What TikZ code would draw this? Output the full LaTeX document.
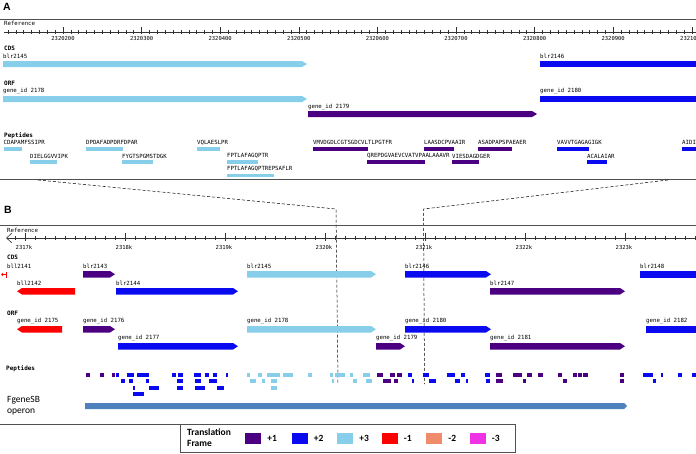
\documentclass[tikz,border=0pt]{standalone}
\usepackage{fontspec}
\setsansfont{Liberation Sans}
\newfontfamily\trackfont{DejaVu Sans Mono}
\newfontfamily\legfont{Carlito}
\usetikzlibrary{positioning}
\definecolor{cF1}{HTML}{4B0082}
\definecolor{cF2}{HTML}{0A0AF0}
\definecolor{cF3}{HTML}{87CEEB}
\definecolor{cM1}{HTML}{FF0000}
\definecolor{cM2}{HTML}{F08C6C}
\definecolor{cM3}{HTML}{F032E6}
\definecolor{cOp}{HTML}{4F81BD}
\definecolor{cRule}{HTML}{505050}
\tikzset{
  lbl/.style={anchor=west,inner sep=0pt,font=\trackfont\fontsize{5.7}{6}\selectfont},
  hdr/.style={anchor=west,inner sep=0pt,font=\trackfont\bfseries\fontsize{6}{7}\selectfont},
  ticklbl/.style={anchor=center,inner sep=0pt,font=\trackfont\fontsize{5.5}{6}\selectfont},
  panel/.style={inner sep=0pt,font=\sffamily\bfseries\fontsize{10.5}{12}\selectfont},
  rule/.style={draw=cRule,line width=.8pt},
  axis/.style={draw=black!80,line width=.6pt},
  zoomline/.style={densely dashed,line width=.5pt},
  swatch/.style={minimum width=16pt,minimum height=10.5pt,inner sep=0pt},
  legtxt/.style={anchor=west,inner sep=0pt,font=\legfont\bfseries\fontsize{9.5}{10.5}\selectfont},
}
% forward / reverse gene bars: x1, x2, ytop, ybot, colour
\newcommand{\fwdbar}[5]{\fill[#5] (#1,#3) -- ({#2-5},#3) -- (#2,{(#3+#4)/2}) -- ({#2-5},#4) -- (#1,#4) -- cycle;}
\newcommand{\revbar}[5]{\fill[#5] (#2,#3) -- ({#1+5},#3) -- (#1,{(#3+#4)/2}) -- ({#1+5},#4) -- (#2,#4) -- cycle;}

\begin{document}
\begin{tikzpicture}[x=1pt,y=-1pt]
  \clip (0,0) rectangle (696,453);

  % ---------------- panel A
  \node[panel] (pA) at (7,7) {A};
  \draw[rule] (0,19) -- (696,19);
  \node[lbl] (refA) at (4,23.5) {Reference};
  \draw[axis] (4,32) -- (696,32);
  \foreach \n in {-7,...,80}
    \draw[axis,line width=.5pt] ({63+7.86*\n},30) -- ++(0,4);
  \foreach \n/\t in {0/2320200,1/2320300,2/2320400,3/2320500,4/2320600,
                     5/2320700,6/2320800,7/2320900,8/2321000}{
    \draw[axis,line width=.5pt] ({63+78.6*\n},27) -- ++(0,7);
    \node[ticklbl] (tA\n) at ({63+78.6*\n},38.5) {\t};
  }

  \node[hdr] (cdsA) at (4,48.5) {CDS};
  \node[lbl] (g2145) at (3,56.5) {blr2145};
  \fwdbar{3}{307}{61}{67}{cF3}
  \node[lbl] (g2146) at (540,56.5) {blr2146};
  \fill[cF2] (540,61) rectangle (700,67);

  \node[hdr] (orfA) at (4,83.5) {ORF};
  \node[lbl] (o2178) at (3,91) {gene\_id 2178};
  \fwdbar{3}{307}{96}{102}{cF3}
  \node[lbl] (o2180) at (540,91) {gene\_id 2180};
  \fill[cF2] (540,96) rectangle (700,102);
  \node[lbl] (o2179) at (308,107.5) {gene\_id 2179};
  \fwdbar{308}{537}{111}{117}{cF1}

  \node[hdr] (pepA) at (4,135.5) {Peptides};
  \foreach \a/\b/\y/\t in {3.5/22/142.3/CDAPAMFSSIPR, 30/57/156/DIELGGVVIPK,
      86/123/142.3/DPDAFADPDRFDPAR, 122/153/156/FYGTSPGMSTDGK,
      197/220/142.3/VQLAESLPR, 227/258/156/FPTLAFAGQPTR,
      227/274/169.2/FPTLAFAGQPTREPSAFLR}{
    \node[lbl] at (\a,\y) {\t};
    \fill[cF3] (\a,{\y+4.4}) rectangle (\b,{\y+8.2});
  }
  \foreach \a/\b/\y/\t in {313/368/142.3/VMVDGDLCGTSGDCVLTLPGTFR,
      367/425/156/QREPDGVAEVCVATVPAALAAAVR, 424/454/142.3/LAASDCPVAAIR,
      452/479/156/VIESDAGDGER, 478/512/142.3/ASADPAPSPAEAER}{
    \node[lbl] at (\a,\y) {\t};
    \fill[cF1] (\a,{\y+4.4}) rectangle (\b,{\y+8.2});
  }
  \foreach \a/\b/\y/\t in {557/589/142.3/VAVVTGAGAGIGK, 587/607/156/ACALAIAR,
      682/700/142.3/AIDI}{
    \node[lbl] at (\a,\y) {\t};
    \fill[cF2] (\a,{\y+4.4}) rectangle (\b,{\y+8.2});
  }
  \draw[rule] (0,179.5) -- (696,179.5);

  % zoom guides
  \coordinate (zL1) at (38,180);
  \coordinate (zL2) at (336,209);
  \coordinate (zL3) at (338,383);
  \coordinate (zR1) at (668,180);
  \coordinate (zR2) at (423.5,209);
  \coordinate (zR3) at (424.5,384);
  \draw[zoomline] (zL1) -- (zL2) -- (zL3);
  \draw[zoomline] (zR1) -- (zR2) -- (zR3);

  % ---------------- panel B
  \node[panel] (pB) at (8,210) {B};
  \draw[rule] (0,225) -- (696,225);
  \node[lbl] (refB) at (7,230) {Reference};
  \draw[axis] (6.5,238) -- (696,238);
  \draw[axis] (12,233) -- (6.5,238) -- (12,243);
  \foreach \n in {-1,...,67}
    \draw[axis,line width=.5pt] ({25+10*\n},236) -- ++(0,4);
  \foreach \n/\t in {0/2317k,1/2318k,2/2319k,3/2320k,4/2321k,5/2322k,6/2323k}{
    \draw[axis,line width=.5pt] ({25+100*\n},233) -- ++(0,8);
    \node[ticklbl] (tB\n) at ({24+100*\n},247) {\t};
  }

  \node[hdr] (cdsB) at (7,257) {CDS};
  \node[lbl] (g2141) at (7,266.5) {bll2141};
  \fill[cM1] (5.5,271.5) rectangle (7,277.5);
  \draw[cM1,line width=.6pt] (1.5,274.5) -- (5.5,274.5);
  \draw[cM1,line width=.6pt] (3,273) -- (1.5,274.5) -- (3,276);
  \node[lbl] (g2143) at (83,266.5) {blr2143};
  \fwdbar{83}{115}{271}{277.5}{cF1}
  \node[lbl] (g2145b) at (247,266.5) {blr2145};
  \fwdbar{247}{376}{271}{277.5}{cF3}
  \node[lbl] (g2146b) at (405,266.5) {blr2146};
  \fwdbar{405}{491}{271}{277.5}{cF2}
  \node[lbl] (g2148) at (640,266.5) {blr2148};
  \fill[cF2] (640,271) rectangle (700,277.5);
  \node[lbl] (g2142) at (17,283) {bll2142};
  \revbar{17}{75}{288}{294.5}{cM1}
  \node[lbl] (g2144) at (116,283) {blr2144};
  \fwdbar{116}{238}{288}{294.5}{cF2}
  \node[lbl] (g2147) at (490,283) {blr2147};
  \fwdbar{490}{625}{288}{294.5}{cF1}

  \node[hdr] (orfB) at (7,313) {ORF};
  \node[lbl] (o2175) at (17,321.5) {gene\_id 2175};
  \revbar{17}{62}{326}{332.5}{cM1}
  \node[lbl] (o2176) at (83,321.5) {gene\_id 2176};
  \fwdbar{83}{115}{326}{332.5}{cF1}
  \node[lbl] (o2178b) at (247,321.5) {gene\_id 2178};
  \fwdbar{247}{376}{326}{332.5}{cF3}
  \node[lbl] (o2180b) at (405,321.5) {gene\_id 2180};
  \fwdbar{405}{491}{326}{332.5}{cF2}
  \node[lbl] (o2182) at (646,321.5) {gene\_id 2182};
  \fill[cF2] (646,326) rectangle (700,332.5);
  \node[lbl] (o2177) at (118,338.5) {gene\_id 2177};
  \fwdbar{118}{238}{343}{349.5}{cF2}
  \node[lbl] (o2179b) at (376,338.5) {gene\_id 2179};
  \fwdbar{376}{405}{343}{349.5}{cF1}
  \node[lbl] (o2181) at (490,338.5) {gene\_id 2181};
  \fwdbar{490}{625}{343}{349.5}{cF1}

  % peptide hits, rows at 372.5 / 379 / 385.5 / 392
  \node[hdr] (pepB) at (6,369) {Peptides};
  \foreach \a/\b/\y in {86/90/372.5, 100/104/372.5, 112/115/372.5,
      377/383/372.5, 390/395/372.5, 397/402/372.5, 496/502/372.5,
      513/522/372.5, 527/532/372.5, 538/543/372.5, 558/562/372.5,
      573/577/372.5, 578/582/372.5, 583/588/372.5, 620/624/372.5,
      383/391/379, 394/398/379, 496/503/379, 523/526/379, 563/567/379,
      620/624/379}
    \fill[cF1] (\a,\y) rectangle (\b,{\y+4});
  \foreach \a/\b/\y in {116/119/372.5, 127/134/372.5, 137/149/372.5,
      172/176/372.5, 178/183/372.5, 194/201/372.5, 205/209/372.5,
      213/217/372.5, 226/228/372.5, 408/412/372.5, 423/429/372.5,
      447/455/372.5, 461/465/372.5, 485/490/372.5, 643/653/372.5,
      661/663/372.5, 678/682/372.5, 692/700/372.5,
      121/125/379, 129/133/379, 146/149/379, 177/183/379, 195/201/379,
      209/217/379, 412/414/379, 429/436/379, 455/460/379, 466/468/379,
      486/490/379, 653/656/379,
      133/135/385.5, 149/159/385.5, 177/183/385.5, 195/205/385.5,
      217/224/385.5, 133/144/392}
    \fill[cF2] (\a,\y) rectangle (\b,{\y+4});
  \foreach \a/\b/\y in {247/250/372.5, 258/262/372.5, 267/280/372.5,
      283/293/372.5, 308/312/372.5, 330/333/372.5, 335/345/372.5,
      350/353/372.5, 363/370/372.5,
      250/256/379, 262/265/379, 271/277/379, 332/334/379, 353/357/379,
      366/372/379, 271/277/385.5}
    \fill[cF3] (\a,\y) rectangle (\b,{\y+4});

  % operon
  \node[anchor=west,inner sep=0pt,font=\legfont\fontsize{9.5}{10}\selectfont] (opA) at (7,400.5) {FgeneSB};
  \node[anchor=west,inner sep=0pt,font=\legfont\fontsize{9.5}{10}\selectfont] (opB) at (7,412) {operon};
  \fill[cOp] (85,403) -- (624,403) -- (627,406) -- (624,409) -- (85,409) -- cycle;

  % ---------------- legend
  \draw[rule] (0,424) -- (515,424) -- (515,452.3) -- (180,452.3) -- (180,424);
  \node[legtxt] (legA) at (187,432.5) {Translation};
  \node[legtxt] (legB) at (187,443.8) {Frame};
  \foreach \c/\x/\t in {cF1/253/+1, cF2/299.5/+2, cF3/345/+3,
                        cM1/389.5/-1, cM2/434/-2, cM3/477.5/-3}{
    \node[swatch,fill=\c] (sw\t) at (\x,438.5) {};
    \node[legtxt,right=6pt of sw\t] {\t};
  }
\end{tikzpicture}
\end{document}
